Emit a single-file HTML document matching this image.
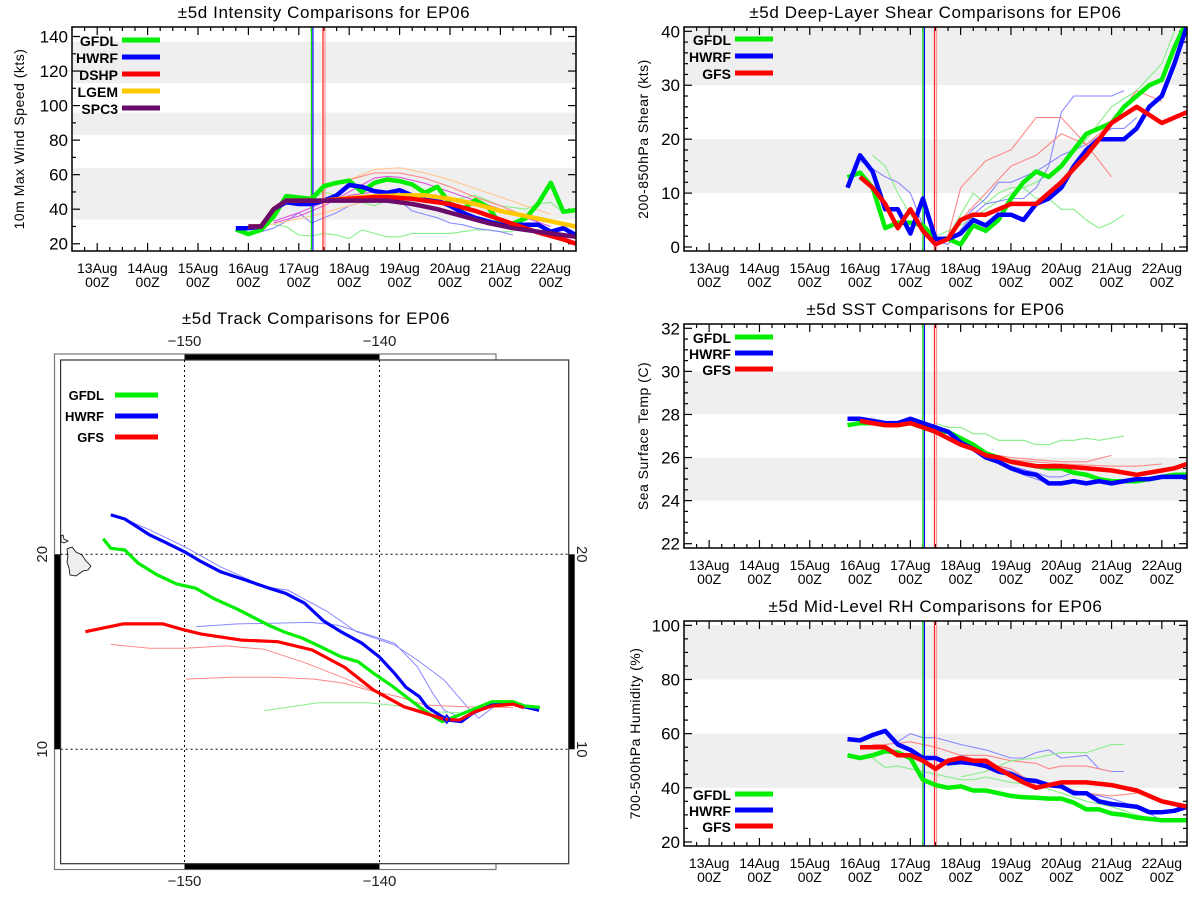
<!DOCTYPE html>
<html><head><meta charset="utf-8"><title>EP06 ±5d comparisons</title>
<style>
html,body{margin:0;padding:0;background:#fff;}
svg{display:block;font-family:"Liberation Sans",Arial,sans-serif;}
</style></head>
<body>
<svg id="root" width="1200" height="900" viewBox="0 0 1200 900" xmlns="http://www.w3.org/2000/svg"></svg>
<script>
// ---------- Data (days since 13Aug 00Z) ----------
const dayLabels = ["13Aug","14Aug","15Aug","16Aug","17Aug","18Aug","19Aug","20Aug","21Aug","22Aug"];
const vlineTimes = [4.25, 4.28, 4.48, 4.52];

// Intensity (kts)
const intT_gfdl = [2.75,3,3.25,3.5,3.75,4,4.25,4.5,4.75,5,5.25,5.5,5.75,6,6.25,6.5,6.75,7,7.25,7.5,7.75,8,8.25,8.5,8.75,9,9.25,9.5];
const int_gfdl  = [28.3,25.6,28,35.6,47.6,46.8,45.9,53.4,55.3,56.5,50.1,55.3,57.2,56.3,54.3,49.5,53,43.3,39.9,45.3,41.4,31.4,31.8,34.7,43.3,55.3,38.5,39.5];
const intT_hwrf = [2.75,3,3.25,3.5,3.75,4,4.25,4.5,4.75,5,5.25,5.5,5.75,6,6.25,6.5,6.75,7,7.25,7.5,7.75,8,8.25,8.5,8.75,9,9.25,9.5];
const int_hwrf  = [29,29,30,40,44,43,43,45,48,54,53,50.5,49.5,51,48,46,45,42,38,35,33,31,31,31,31,27,29,25];
const intT_dshp = [3,3.25,3.5,3.75,4,4.25,4.5,4.75,5,5.25,5.5,5.75,6,6.25,6.5,6.75,7,7.25,7.5,7.75,8,8.25,8.5,8.75,9,9.25,9.5];
const int_dshp  = [30,30,40,45,45,45,45,45.5,46,46.5,47,47,46.5,46,45,44,43,41,39,36.5,34,31.5,29,26.5,24.5,22.5,20];
const intT_lgem = [3,3.25,3.5,3.75,4,4.5,5,5.5,6,6.5,7,7.5,8,8.5,9,9.5];
const int_lgem  = [30,30,40,45,45,45,46.5,47.5,48,48,46,43,39,36,33,30];
const intT_spc3 = [3,3.25,3.5,3.75,4,4.25,4.5,4.75,5,5.25,5.5,5.75,6,6.25,6.5,6.75,7,7.25,7.5,7.75,8,8.25,8.5,8.75,9,9.25,9.5];
const int_spc3  = [30,30,40,45,45,45,45,45,45,45,45,45,44,43,41.5,40,38,36,34,32,30.5,29,28,27,26,25,24];
const intOldT_g1 = [3.5,3.75,4,4.25,4.5,4.75,5,5.25,5.5,5.75,6,6.25,6.5,6.75,7,7.25,7.5,7.75,8,8.25];
const intOld_g1  = [31,30,25,24.5,26,25,23,28,26,24,24,26,26,26,26,27,28,28,27,27];
const intOldT_g2 = [4.25,4.5,4.75,5,5.25,5.5,5.75,6,6.5,7,7.5,8,8.5,8.75,9,9.25,9.5];
const intOld_g2  = [45,50,48,46,44,42,45,44,47,45,48,42,40,43,44,38,39];
const intOldT_b1 = [3.25,3.5,3.75,4,4.25,4.5,4.75,5,5.25,5.5,5.75,6,6.25,6.5,6.75,7,7.25,7.5,7.75,8,8.25];
const intOld_b1  = [27,29,33,38,32,35,38,42,44,46,47,45,39,37,35,32,31,29,28,27,25];
const intOldT_y1 = [4,4.5,5,5.5,6,6.5,7,7.5,8,8.5,9];
const intOld_y1  = [44,52,57,63,64,61,57,52,47,42,37];
const intOldT_y2 = [3.25,3.75,4.25,4.75,5.25,5.75,6.25];
const intOld_y2  = [30,33,36,40,44,47,48];
const intOldT_r1 = [4.5,5,5.5,6,6.5,7,7.5,8,8.5,8.75];
const intOld_r1  = [52,57,61,61,58,53,47,42,36,33];
const intOldT_m1 = [3.5,4,4.5,5,5.5,5.75,6,6.5,7,7.5,8,8.5,9];
const intOld_m1  = [32,36,42,50,58,59,58.5,55,50,45,40,35,30];
const intOldT_m2 = [3.5,4,4.5,5,5.5,6,6.5];
const intOld_m2  = [33,38,44,48,50,50,48];

// Shear (kts)
const shT_gfdl = [2.75,3,3.25,3.5,3.75,4,4.25,4.5,4.75,5,5.25,5.5,5.75,6,6.25,6.5,6.75,7,7.25,7.5,7.75,8,8.25,8.5,8.75,9,9.25,9.5];
const sh_gfdl  = [12.9,13.8,11,3.5,4.5,4.5,4,1.5,1.5,0.5,4,3,5,9,12,14,13,15,18,21,22,23,26,28,30,31,37,42];
const shT_hwrf = [2.75,3,3.25,3.5,3.75,4,4.25,4.5,4.75,5,5.25,5.5,5.75,6,6.25,6.5,6.75,7,7.25,7.5,7.75,8,8.25,8.5,8.75,9,9.25,9.5];
const sh_hwrf  = [11,17,14,7,7,2.5,9,1.5,1.5,2.5,5,4,6,6,5,8,9,11,15,18,20,20,20,22,26,28,34,41];
const shT_gfs  = [3,3.25,3.5,3.75,4,4.25,4.5,4.75,5,5.25,5.5,5.75,6,6.25,6.5,6.75,7,7.25,7.5,7.75,8,8.25,8.5,8.75,9,9.25,9.5];
const sh_gfs   = [13,11,8,3.5,7,3,0.5,1.5,5,6,6,7,8,8,8,10,12,14.5,17,20,23,24.5,26,24.5,23,24,25];
const shOldT_g1 = [3.25,3.5,3.75,4,4.25,4.5,4.75,5,5.25,5.5,5.75,6,6.25,6.5,6.75,7,7.25,7.5,7.75,8,8.25];
const shOld_g1  = [17,15,10,6,3,1.5,2,6,10,8,10,11,11,9,9,7,7,5,3.5,4.5,6];
const shOldT_g2 = [4.5,5,5.5,6,6.5,7,7.5,8,8.5,9,9.25];
const shOld_g2  = [2,4,7,10,12,15,20,26,29,34,40];
const shOldT_b1 = [3,3.5,3.75,4,4.25,4.5,4.75,5.25,5.5,6,6.25,6.5,6.75,7,7.25,8,8.25];
const shOld_b1  = [16,13,12,10,4,1,0.5,6,8,9,9,11,15,25,28,28,29];
const shOldT_b2 = [4.75,5.25,5.5,5.75,6,6.5,7,7.5,8,8.25,8.5];
const shOld_b2  = [2,7,9,12,12,14,17,19,22,22,24];
const shOldT_r1 = [4.75,5,5.5,6,6.5,7,7.5,7.75,8];
const shOld_r1  = [2,11,16,18,24,24,19,16,13];
const shOldT_r2 = [5,5.5,6,6.5,7,7.5,8,8.5,9];
const shOld_r2  = [5,10,15,17,21,19,23,29,27];

// SST (C)
const sstT_gfdl = [2.75,3,3.25,3.5,3.75,4,4.25,4.5,4.75,5,5.25,5.5,5.75,6,6.25,6.5,6.75,7,7.25,7.5,7.75,8,8.25,8.5,8.75,9,9.25,9.5];
const sst_gfdl  = [27.5,27.6,27.6,27.5,27.5,27.6,27.4,27.2,27.2,26.9,26.6,26.2,26.0,25.8,25.7,25.6,25.5,25.5,25.3,25.2,25.0,24.9,24.9,24.9,25.0,25.1,25.2,25.2];
const sstT_hwrf = [2.75,3,3.25,3.5,3.75,4,4.25,4.5,4.75,5,5.25,5.5,5.75,6,6.25,6.5,6.75,7,7.25,7.5,7.75,8,8.25,8.5,8.75,9,9.25,9.5];
const sst_hwrf  = [27.8,27.8,27.7,27.6,27.6,27.8,27.6,27.4,27.2,26.7,26.4,26.0,25.8,25.5,25.3,25.2,24.8,24.8,24.9,24.8,24.9,24.8,24.9,25.0,25.0,25.1,25.1,25.1];
const sstT_gfs  = [3,3.25,3.5,3.75,4,4.25,4.5,4.75,5,5.25,5.5,5.75,6,6.25,6.5,6.75,7,7.25,7.5,7.75,8,8.25,8.5,8.75,9,9.25,9.5];
const sst_gfs   = [27.7,27.6,27.5,27.5,27.6,27.4,27.2,26.9,26.6,26.4,26.1,26.0,25.8,25.7,25.6,25.6,25.6,25.55,25.5,25.45,25.4,25.3,25.2,25.3,25.4,25.5,25.7];
const sstOldT_g1 = [4.5,4.75,5,5.25,5.5,5.75,6,6.25,6.5,6.75,7,7.25,7.5,7.75,8,8.25];
const sstOld_g1  = [27.6,27.4,27.4,27.1,27.1,26.8,26.8,26.8,26.6,26.6,26.8,26.8,26.9,26.8,26.9,27.0];
const sstOldT_r1 = [5.75,6,6.5,7,7.5,8];
const sstOld_r1  = [26.1,26.0,25.9,25.8,25.8,26.1];
const sstOldT_r2 = [6,7,8,8.5,9];
const sstOld_r2  = [25.9,25.7,25.6,25.6,25.7];
const sstOldT_b1 = [5.75,6,6.25,6.5,6.75,7,7.25];
const sstOld_b1  = [25.7,25.5,25.2,25.0,24.8,24.8,25.0];
const sstOldT_b2 = [6,6.5,6.75,7,7.25];
const sstOld_b2  = [25.6,25.3,25.1,25.1,25.3];

// RH (%)
const rhT_gfdl = [2.75,3,3.25,3.5,3.75,4,4.25,4.5,4.75,5,5.25,5.5,5.75,6,6.25,6.5,6.75,7,7.25,7.5,7.75,8,8.25,8.5,8.75,9,9.25,9.5];
const rh_gfdl  = [52,51,52,53.5,53,51,43,41,40,40.5,39,39,38,37,36.5,36.3,36,36,34.5,32,32,30.5,30,29,28.5,28,28,28];
const rhT_hwrf = [2.75,3,3.25,3.5,3.75,4,4.25,4.5,4.75,5,5.25,5.5,5.75,6,6.25,6.5,6.75,7,7.25,7.5,7.75,8,8.25,8.5,8.75,9,9.25,9.5];
const rh_hwrf  = [58,57.5,59.5,61,56,54,51,51,49,49.5,49,48,46,45,43,42.5,41,40.5,38,38,35,34,33.5,33,31,31,31.5,33];
const rhT_gfs  = [3,3.25,3.5,3.75,4,4.25,4.5,4.75,5,5.25,5.5,5.75,6,6.25,6.5,6.75,7,7.25,7.5,7.75,8,8.25,8.5,8.75,9,9.25,9.5];
const rh_gfs   = [55,55,55,52,52,50,47,50,51,50,50,47,44.5,42,40,41,42,42,42,41.5,41,40,39,37,35,34,33];
const rhOldT_b1 = [3.75,4,4.25,4.5,5,5.5,6,6.25,6.5,6.75,7,7.5,7.75,8,8.25];
const rhOld_b1  = [57,60,58.5,58.5,56,54,51,51,53,54,51,52,47,46,46];
const rhOldT_r1 = [3.25,3.5,4,4.5,5,5.5,6,6.5,6.75,7,7.5,8];
const rhOld_r1  = [56,56,57,55,52,52,50,49,47,48,48,46];
const rhOldT_g1 = [3.25,3.5,3.75,4,4.5,5,5.25,5.5,6,6.5,7,7.5,8,8.5,9];
const rhOld_g1  = [51,47.5,48,47,45,43,43,44,42,41,38,35,33,30,28];
const rhOldT_g2 = [5,5.5,6,6.5,7,7.5,8,8.25];
const rhOld_g2  = [44,46,50,51,53,53,56,56];
const rhOldT_b2 = [5,6,6.5,7,8,8.5,9];
const rhOld_b2  = [52,46,42,40,36,33,28];
const rhOldT_r2 = [5,6,6.5,7,7.5,8,8.5];
const rhOld_r2  = [51,47,41,40,38,37,38];

// Track (lon, lat)
const trkLon_hwrf = [-153.78,-153.06,-151.78,-151.0,-150.0,-149.14,-148.16,-146.88,-145.8,-144.82,-143.84,-142.86,-141.98,-140.9,-140.02,-139.23,-138.64,-137.96,-137.57,-137.07,-136.49,-135.8,-135.22,-134.24,-133.15,-132.56,-131.82];
const trkLat_hwrf = [22.02,21.81,20.99,20.62,20.13,19.62,19.11,18.68,18.31,18.0,17.49,16.58,16.03,15.44,14.75,13.9,13.18,12.70,12.18,11.85,11.50,11.42,11.85,12.27,12.36,12.18,12.0];
const trkLon_gfdl = [-154.17,-153.78,-153.06,-152.37,-151.39,-150.41,-149.43,-148.45,-147.27,-145.7,-144.92,-143.94,-142.96,-141.98,-141.1,-140.31,-139.43,-138.64,-137.96,-137.37,-136.78,-135.31,-134.24,-133.15,-132.56,-131.78];
const trkLat_gfdl = [20.8,20.31,20.22,19.54,18.94,18.48,18.26,17.71,17.18,16.37,16.03,15.69,15.23,14.75,14.49,13.9,13.3,12.70,12.18,11.76,11.42,12.0,12.44,12.44,12.22,12.15];
const trkLon_gfs = [-155.08,-153.16,-151.1,-150.12,-149.14,-147.08,-145.22,-143.45,-141.78,-140.31,-138.74,-137.66,-136.68,-135.9,-135.11,-134.24,-133.15,-132.6];
const trkLat_gfs = [16.03,16.43,16.43,16.15,15.91,15.6,15.52,15.09,14.2,13.04,12.18,11.85,11.54,11.50,11.93,12.22,12.32,12.13];
const trkOldLon_b1 = [-153.06,-151.78,-150.0,-148.16,-145.9,-144.72,-142.67,-141.19,-139.23,-138.06,-136.68,-135.51,-134.92,-134.14];
const trkOldLat_b1 = [21.81,21.25,20.39,19.36,18.34,18.17,17.06,16.03,15.35,14.58,13.55,12.18,11.59,12.18];
const trkOldLon_b2 = [-149.39,-147.27,-143.55,-142.17,-140.8,-139.23,-138.06,-137.27,-136.68,-135.9];
const trkOldLat_b2 = [16.29,16.43,16.51,16.37,15.95,15.44,14.24,12.87,12.0,11.67];
const trkOldLon_r1 = [-153.78,-151.78,-150.0,-147.86,-145.9,-143.74,-141.78,-140.21,-138.64,-137.47];
const trkOldLat_r1 = [15.38,15.18,15.18,15.3,15.13,14.41,13.64,12.95,12.18,11.93];
const trkOldLon_r2 = [-149.92,-147.66,-145.31,-143.35,-141.78,-140.6,-139.04,-137.66,-135.7,-133.15];
const trkOldLat_r2 = [13.6,13.69,13.69,13.6,13.38,13.04,12.7,12.27,12.18,12.15];
const trkOldLon_g1 = [-145.9,-143.15,-140.6,-138.64,-137.47,-135.9];
const trkOldLat_g1 = [11.98,12.39,12.39,12.18,11.93,11.88];
const lonTicks = [-150,-140];
const latTicks = [20,10];

// ---------- Helpers ----------
const NS = "http://www.w3.org/2000/svg";
const root = document.getElementById('root');
function mk(tag, attrs, parent){
  const e = document.createElementNS(NS, tag);
  for (const k in attrs) e.setAttribute(k, attrs[k]);
  (parent||root).appendChild(e);
  return e;
}
const GREEN="#00ee00", BLUE="#0000ff", RED="#ff0000", YEL="#ffc800", PURP="#6a0a6a";
const LGREEN="#88ee88", LBLUE="#8888ff", LRED="#ff8888", LYEL="#ffc890", LMAG="#dd55dd";

function panel(cfg){
  const g = mk('g', {});
  
  
  const sx = d => cfg.x0 + (d - (-0.5)) / 10 * (cfg.x1 - cfg.x0);
  const sy = v => cfg.y1 - (v - cfg.vmin) / (cfg.vmax - cfg.vmin) * (cfg.y1 - cfg.y0);
  cfg.bands.forEach(b => {
    const top = Math.max(cfg.y0, sy(b[1])), bot = Math.min(cfg.y1, sy(b[0]));
    const r = mk('rect', {x:cfg.x0, y:top, width:cfg.x1-cfg.x0, height:bot-top, fill:'#efefef'}, g);
    
    
  });
  const t = mk('text', {x:(cfg.x0+cfg.x1)/2, y:cfg.y0-9, 'font-size':17, 'text-anchor':'middle', 'letter-spacing':'0.6'}, g);
  t.textContent = cfg.title;
  
  
  const yl = mk('text', {x:0, y:0, 'font-size':14, 'text-anchor':'middle', 'letter-spacing':'0.5', transform:`translate(${cfg.ylx},${(cfg.y0+cfg.y1)/2}) rotate(-90)`}, g);
  yl.textContent = cfg.ylabel;
  
  
  for (let v = cfg.tickStart; v <= cfg.vmax + 1e-6; v += cfg.minor) {
    if (v < cfg.vmin) continue;
    const isMaj = Math.abs(((v - cfg.tickStart) / cfg.major) - Math.round((v - cfg.tickStart) / cfg.major)) < 1e-6;
    const L = isMaj ? 8 : 4, y = sy(v);
    mk('line', {x1:cfg.x0, x2:cfg.x0+L, y1:y, y2:y, stroke:'#000', 'stroke-width':1.2}, g);
    mk('line', {x1:cfg.x1, x2:cfg.x1-L, y1:y, y2:y, stroke:'#000', 'stroke-width':1.2}, g);
    if (isMaj) {
      const tl = mk('text', {x:cfg.x0-4, y:y+6, 'font-size':17, 'text-anchor':'end'}, g);
      tl.textContent = Math.round(v);
      
      
    }
  }
  for (let d = -0.5; d <= 9.5 + 1e-6; d += 0.25) {
    const isMaj = Math.abs(d - Math.round(d)) < 1e-6;
    const L = isMaj ? 8 : 4, x = sx(d);
    mk('line', {x1:x, x2:x, y1:cfg.y1, y2:cfg.y1-L, stroke:'#000', 'stroke-width':1.2}, g);
    mk('line', {x1:x, x2:x, y1:cfg.y0, y2:cfg.y0+L, stroke:'#000', 'stroke-width':1.2}, g);
  }
  dayLabels.forEach((lab, i) => {
    const x = sx(i);
    const a = mk('text', {x:x, y:cfg.y1+22, 'font-size':14, 'text-anchor':'middle'}, g);
    a.textContent = lab;
    
    
    const b = mk('text', {x:x, y:cfg.y1+36, 'font-size':14, 'text-anchor':'middle'}, g);
    b.textContent = "00Z";
    
    
  });
  const cid = 'clip-' + cfg.name;
  const cp = mk('clipPath', {id:cid}, g);
  mk('rect', {x:cfg.x0, y:cfg.y0, width:cfg.x1-cfg.x0, height:cfg.y1-cfg.y0}, cp);
  const dg = mk('g', {'clip-path':`url(#${cid})`}, g);
  function series(ts, vs, color, w, nm){
    const p = mk('polyline', {points: ts.map((d,i)=>sx(d).toFixed(1)+','+sy(vs[i]).toFixed(1)).join(' '), fill:'none', stroke:color, 'stroke-width':w, 'stroke-linejoin':'round'}, dg);
    
    
  }
  cfg.thin.forEach(s => series(s[0], s[1], s[2], 1.1, 'older-forecast-line'));
  const vcol = ['#00dd00','#0000ff','#ff2222','#ff9999'];
  vlineTimes.forEach((d,i) => {
    const l = mk('line', {x1:sx(d), x2:sx(d), y1:cfg.y0, y2:cfg.y1, stroke:vcol[i], 'stroke-width':1.2}, dg);
    
    
  });
  cfg.thick.forEach(s => series(s[0], s[1], s[2], 4.5, s[3] + '-line'));
  mk('rect', {x:cfg.x0, y:cfg.y0, width:cfg.x1-cfg.x0, height:cfg.y1-cfg.y0, fill:'none', stroke:'#000', 'stroke-width':1.5}, g);
  cfg.legend.forEach((it, i) => {
    const y = cfg.legY + i * cfg.legDy;
    const lt = mk('text', {x:cfg.legTx, y:y+6, 'font-size':14, 'font-weight':'bold', 'text-anchor':'end', 'font-family':'"Liberation Sans Narrow","Liberation Sans",sans-serif'}, g);
    lt.textContent = it[0];
    
    
    const ll = mk('line', {x1:cfg.legTx+4, x2:cfg.legTx+42, y1:y, y2:y, stroke:it[1], 'stroke-width':5}, g);
    
    
  });
}

panel({name:'intensity-chart', title:'±5d Intensity Comparisons for EP06', ylabel:'10m Max Wind Speed (kts)', ylx:24,
  x0:72, x1:576, y0:27, y1:251, vmin:15.8, vmax:145.5, tickStart:20, major:20, minor:10,
  bands:[[34,64],[83,96],[113,137]],
  thin:[[intOldT_g1,intOld_g1,LGREEN],[intOldT_g2,intOld_g2,LGREEN],[intOldT_b1,intOld_b1,LBLUE],[intOldT_y1,intOld_y1,LYEL],[intOldT_y2,intOld_y2,LYEL],[intOldT_r1,intOld_r1,LRED],[intOldT_m1,intOld_m1,LMAG],[intOldT_m2,intOld_m2,LMAG]],
  thick:[[intT_gfdl,int_gfdl,GREEN,'gfdl'],[intT_hwrf,int_hwrf,BLUE,'hwrf'],[intT_lgem,int_lgem,YEL,'lgem'],[intT_dshp,int_dshp,RED,'dshp'],[intT_spc3,int_spc3,PURP,'spc3']],
  legend:[['GFDL',GREEN],['HWRF',BLUE],['DSHP',RED],['LGEM',YEL],['SPC3',PURP]], legTx:118, legY:40, legDy:17});

panel({name:'shear-chart', title:'±5d Deep-Layer Shear Comparisons for EP06', ylabel:'200-850hPa Shear (kts)', ylx:648,
  x0:684, x1:1187, y0:27, y1:251, vmin:-0.74, vmax:40.8, tickStart:0, major:10, minor:2,
  bands:[[10,20],[30,45]],
  thin:[[shOldT_g1,shOld_g1,LGREEN],[shOldT_g2,shOld_g2,LGREEN],[shOldT_b1,shOld_b1,LBLUE],[shOldT_b2,shOld_b2,LBLUE],[shOldT_r1,shOld_r1,LRED],[shOldT_r2,shOld_r2,LRED]],
  thick:[[shT_gfdl,sh_gfdl,GREEN,'gfdl'],[shT_hwrf,sh_hwrf,BLUE,'hwrf'],[shT_gfs,sh_gfs,RED,'gfs']],
  legend:[['GFDL',GREEN],['HWRF',BLUE],['GFS',RED]], legTx:731, legY:39, legDy:17});

panel({name:'sst-chart', title:'±5d SST Comparisons for EP06', ylabel:'Sea Surface Temp (C)', ylx:648,
  x0:684, x1:1187, y0:324, y1:548, vmin:21.8, vmax:32.2, tickStart:22, major:2, minor:0.5,
  bands:[[24,26],[28,30]],
  thin:[[sstOldT_g1,sstOld_g1,LGREEN],[sstOldT_r1,sstOld_r1,LRED],[sstOldT_r2,sstOld_r2,LRED],[sstOldT_b1,sstOld_b1,LBLUE],[sstOldT_b2,sstOld_b2,LBLUE]],
  thick:[[sstT_gfdl,sst_gfdl,GREEN,'gfdl'],[sstT_hwrf,sst_hwrf,BLUE,'hwrf'],[sstT_gfs,sst_gfs,RED,'gfs']],
  legend:[['GFDL',GREEN],['HWRF',BLUE],['GFS',RED]], legTx:731, legY:337, legDy:16});

panel({name:'rh-chart', title:'±5d Mid-Level RH Comparisons for EP06', ylabel:'700-500hPa Humidity (%)', ylx:640,
  x0:684, x1:1187, y0:621, y1:846, vmin:18.5, vmax:101.6, tickStart:20, major:20, minor:5,
  bands:[[40,60],[80,100]],
  thin:[[rhOldT_b1,rhOld_b1,LBLUE],[rhOldT_r1,rhOld_r1,LRED],[rhOldT_g1,rhOld_g1,LGREEN],[rhOldT_g2,rhOld_g2,LGREEN],[rhOldT_b2,rhOld_b2,LBLUE],[rhOldT_r2,rhOld_r2,LRED]],
  thick:[[rhT_gfdl,rh_gfdl,GREEN,'gfdl'],[rhT_hwrf,rh_hwrf,BLUE,'hwrf'],[rhT_gfs,rh_gfs,RED,'gfs']],
  legend:[['GFDL',GREEN],['HWRF',BLUE],['GFS',RED]], legTx:731, legY:794, legDy:16});

// ---------- Track map ----------
(function(){
  const g = mk('g', {});
  
  
  const X0=60.6, X1=568.7, Y0=360, Y1=863.7;
  const lx = lon => 184.5 + (lon + 150) * 19.5;
  const ly = lat => 554.3 - (lat - 20) * 19.5;
  const t = mk('text', {x:316, y:324, 'font-size':17, 'text-anchor':'middle', 'letter-spacing':'0.6'}, g);
  t.textContent = '±5d Track Comparisons for EP06';
  
  
  mk('rect', {x:54.5, y:354, width:441.5, height:515.5, fill:'#fff', stroke:'#777', 'stroke-width':1.2}, g);
  mk('rect', {x:lx(-150), y:354.5, width:lx(-140)-lx(-150), height:5.5, fill:'#000'}, g);
  mk('rect', {x:lx(-150), y:Y1, width:lx(-140)-lx(-150), height:5.5, fill:'#000'}, g);
  mk('rect', {x:54.5, y:ly(20), width:6, height:ly(10)-ly(20), fill:'#000'}, g);
  mk('rect', {x:X1, y:ly(20), width:6, height:ly(10)-ly(20), fill:'#000'}, g);
  mk('rect', {x:X0, y:Y0, width:X1-X0, height:Y1-Y0, fill:'#fff', stroke:'#333', 'stroke-width':1.2}, g);
  lonTicks.forEach(lon => {
    const gl = mk('line', {x1:lx(lon), x2:lx(lon), y1:Y0, y2:Y1, stroke:'#000', 'stroke-width':1, 'stroke-dasharray':'2,3'}, g);
    
    
    [346, 886].forEach(yy => {
      const tl = mk('text', {x:lx(lon), y:yy, 'font-size':15, 'text-anchor':'middle', fill:'#222'}, g);
      tl.textContent = '\u2212' + Math.abs(lon);
      
      
    });
  });
  latTicks.forEach(lat => {
    const gl = mk('line', {x1:X0, x2:X1, y1:ly(lat), y2:ly(lat), stroke:'#000', 'stroke-width':1, 'stroke-dasharray':'2,3'}, g);
    
    
    const a = mk('text', {x:0, y:0, 'font-size':15, 'text-anchor':'middle', fill:'#222', transform:`translate(47,${ly(lat)}) rotate(-90)`}, g);
    a.textContent = lat;
    
    
    const b = mk('text', {x:0, y:0, 'font-size':15, 'text-anchor':'middle', fill:'#222', transform:`translate(577,${ly(lat)}) rotate(90)`}, g);
    b.textContent = lat;
    
    
  });
  const isl = mk('path', {d:'M67,549 L72,547 L76,552 L82,555 L86,561 L91,566 L88,570 L83,571 L76,576 L70,575 L69,568 L67,562 L68,556 Z', fill:'#eee', stroke:'#000', 'stroke-width':0.8}, g);
  
  
  const isl2 = mk('path', {d:'M61,536 L63,535 L64,539 L68,541 L64,543 L61,542 Z', fill:'#eee', stroke:'#000', 'stroke-width':0.8}, g);
  
  
  function track(lons, lats, color, w, nm){
    const p = mk('polyline', {points: lons.map((lo,i)=>lx(lo).toFixed(1)+','+ly(lats[i]).toFixed(1)).join(' '), fill:'none', stroke:color, 'stroke-width':w, 'stroke-linejoin':'round'}, g);
    
    
  }
  track(trkOldLon_b1, trkOldLat_b1, LBLUE, 1, 'older-track');
  track(trkOldLon_b2, trkOldLat_b2, LBLUE, 1, 'older-track');
  track(trkOldLon_r1, trkOldLat_r1, LRED, 1, 'older-track');
  track(trkOldLon_r2, trkOldLat_r2, LRED, 1, 'older-track');
  track(trkOldLon_g1, trkOldLat_g1, LGREEN, 1, 'older-track');
  track(trkLon_hwrf, trkLat_hwrf, BLUE, 3.2, 'hwrf-track');
  track(trkLon_gfdl, trkLat_gfdl, GREEN, 3.2, 'gfdl-track');
  track(trkLon_gfs, trkLat_gfs, RED, 3.2, 'gfs-track');
  const dm = mk('path', {d:`M${lx(-136.55)},${ly(11.75)} l3,4 l-3,4 l-3,-4 Z`, fill:'none', stroke:BLUE, 'stroke-width':1.5}, g);
  
  
  [['GFDL',GREEN],['HWRF',BLUE],['GFS',RED]].forEach((it,i) => {
    const y = 395 + i*21;
    const lt = mk('text', {x:104, y:y+5, 'font-size':13, 'font-weight':'bold', 'text-anchor':'end', 'font-family':'"Liberation Sans Narrow","Liberation Sans",sans-serif'}, g);
    lt.textContent = it[0];
    
    
    const ll = mk('line', {x1:115, x2:158, y1:y, y2:y, stroke:it[1], 'stroke-width':5}, g);
    
    
  });
})();
</script>
</body></html>
